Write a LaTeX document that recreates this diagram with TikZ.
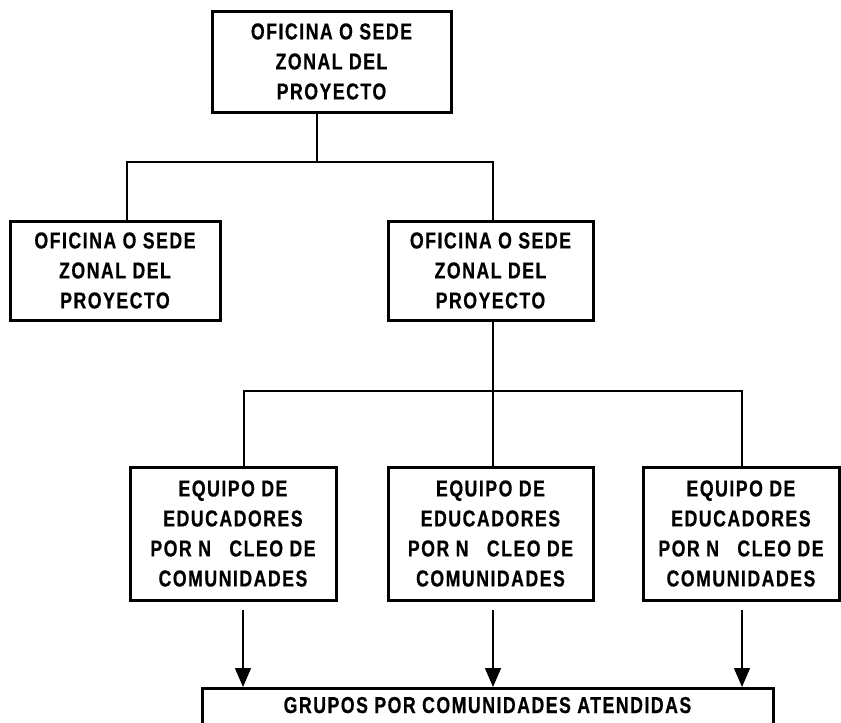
\documentclass[tikz,border=0pt]{standalone}
\usepackage{fontspec}
\setmainfont{Liberation Sans}[FakeStretch=0.77,LetterSpace=6.5,FakeBold=0.6]
\usetikzlibrary{arrows.meta}
\begin{document}
\begin{tikzpicture}[x=1pt,y=-1pt,
  box/.style={draw=black, line width=3pt, inner sep=0pt, align=center,
    font=\fontsize{23}{30}\selectfont\bfseries},
  conn/.style={draw=black, line width=1.3pt},
  arr/.style={conn, -{Triangle[length=19pt,width=16pt]}}]
\useasboundingbox (0,0) rectangle (841,723);
% boxes
\node[box, minimum width=239pt, minimum height=101pt] (top) at (331.5,61.5)
  {OFICINA O SEDE\\ZONAL DEL\\PROYECTO};
\node[box, minimum width=210pt, minimum height=99pt] (left) at (115,270.5)
  {OFICINA O SEDE\\ZONAL DEL\\PROYECTO};
\node[box, minimum width=205pt, minimum height=99pt] (mid) at (490.5,270.5)
  {OFICINA O SEDE\\ZONAL DEL\\PROYECTO};
\node[box, minimum width=206pt, minimum height=133pt] (e1) at (233,533.5)
  {EQUIPO DE\\EDUCADORES\\POR N\hspace{12pt} CLEO DE\\COMUNIDADES};
\node[box, minimum width=205pt, minimum height=133pt] (e2) at (490.5,533.5)
  {EQUIPO DE\\EDUCADORES\\POR N\hspace{12pt} CLEO DE\\COMUNIDADES};
\node[box, minimum width=196pt, minimum height=133pt] (e3) at (741,533.5)
  {EQUIPO DE\\EDUCADORES\\POR N\hspace{12pt} CLEO DE\\COMUNIDADES};
\node[box, minimum width=571pt, minimum height=80pt, anchor=north] (grp) at (487.5,687)
  {};
\node[font=\fontsize{23}{30}\selectfont\bfseries, inner sep=0pt, anchor=base] (grpt) at (487.5,713)
  {GRUPOS POR COMUNIDADES ATENDIDAS};
% bus coordinates
\coordinate (b1) at (317,162);
\coordinate (b1l) at (127,162);
\coordinate (b1r) at (493,162);
\coordinate (b2) at (493,391);
\coordinate (b2l) at (244,391);
\coordinate (b2r) at (742,391);
% connectors level 1
\draw[conn] (b1 |- top.south) -- (b1);
\draw[conn] (b1l |- left.north) -- (b1l) -- (b1r) -- (b1r |- mid.north);
% connectors level 2
\draw[conn] (b2 |- mid.south) -- (b2);
\draw[conn] (b2l |- e1.north) -- (b2l) -- (b2r) -- (b2r |- e3.north);
\draw[conn] (b2) -- (b2 |- e2.north);
% arrows
\coordinate (a1) at (243,610);
\coordinate (a2) at (493,610);
\coordinate (a3) at (742,610);
\draw[arr] (a1) -- (a1 |- grp.north);
\draw[arr] (a2) -- (a2 |- grp.north);
\draw[arr] (a3) -- (a3 |- grp.north);
\end{tikzpicture}
\end{document}
